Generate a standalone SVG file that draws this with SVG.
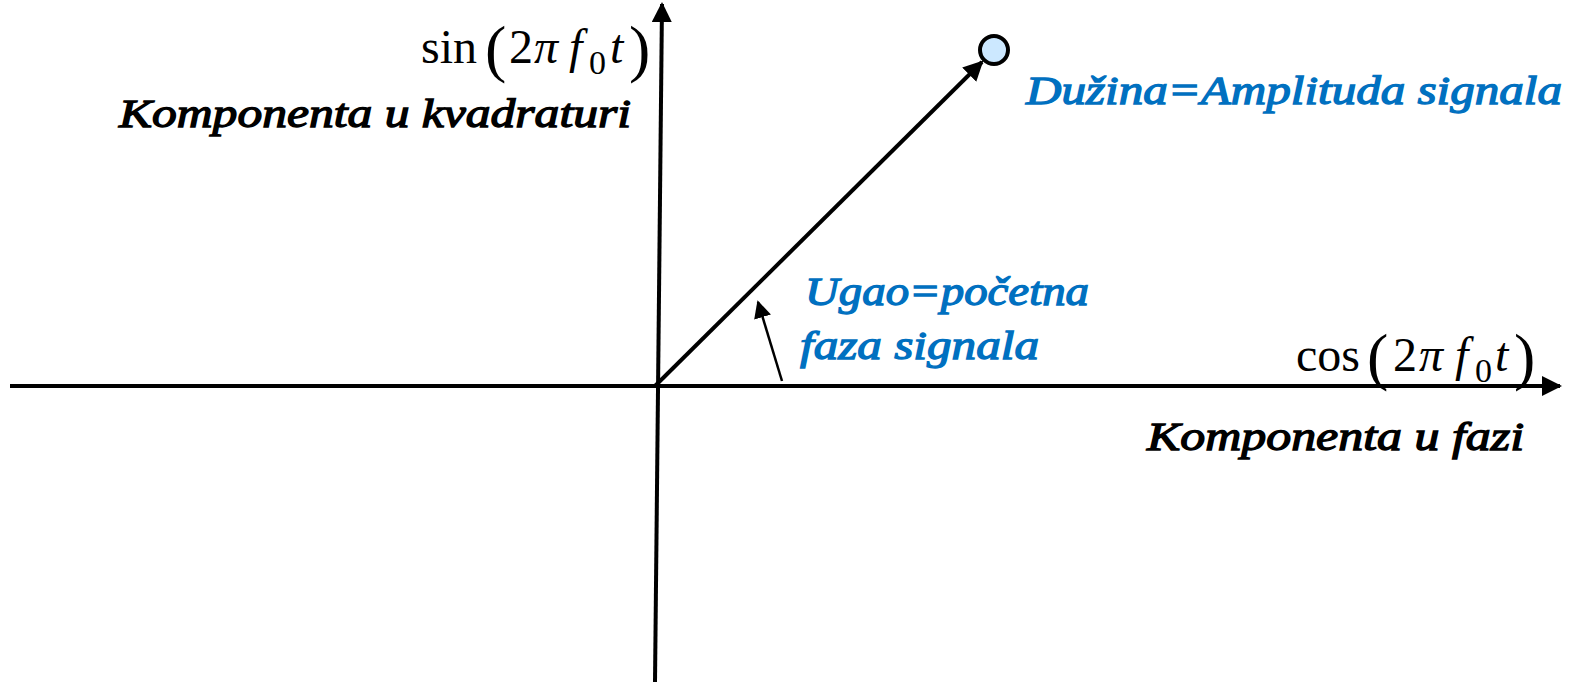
<svg xmlns="http://www.w3.org/2000/svg" width="1577" height="682" viewBox="0 0 1577 682">
<style>
.ax{stroke:#000;stroke-width:4;fill:none}
.lbl{font-family:"Liberation Serif","Times New Roman",serif;font-style:italic;font-size:40px;fill:#000;stroke:#000;stroke-width:1.3}
.blue{fill:#0070C0;stroke:#0070C0}
.math{font-family:"Liberation Serif","Times New Roman",serif;font-size:48px;fill:#000}
.it{font-style:italic}
.par{font-size:64px}
.sub{font-size:34px}
</style>
<defs>
<marker id="ah" viewBox="0 0 10 10" refX="9" refY="5" markerWidth="5" markerHeight="5" orient="auto" markerUnits="strokeWidth">
<path d="M0,0 L10,5 L0,10 Z" fill="#000"/>
</marker>
<marker id="ahs" viewBox="0 0 10 10" refX="9" refY="5" markerWidth="7" markerHeight="7" orient="auto" markerUnits="strokeWidth">
<path d="M0,0 L10,5 L0,10 Z" fill="#000"/>
</marker>
</defs>
<g id="connectors">
<line class="ax" x1="10" y1="386" x2="1560" y2="386" marker-end="url(#ah)"/>
<line class="ax" x1="655" y1="682" x2="662" y2="4" marker-end="url(#ah)"/>
<line class="ax" x1="655" y1="386" x2="982" y2="62" stroke-width="5" marker-end="url(#ah)"/>
<line x1="782" y1="381" x2="758" y2="302" stroke="#000" stroke-width="2.5" marker-end="url(#ahs)"/>
</g>
<g id="point">
<circle cx="994" cy="50" r="14" fill="#CCE8FF" stroke="#000" stroke-width="4"/>
</g>
<g id="sin-label">
<text class="math" y="63"><tspan x="421">sin</tspan><tspan class="par" x="485" y="70">(</tspan><tspan x="509" y="63">2</tspan><tspan class="it" x="534">π</tspan><tspan class="it" x="569">f</tspan><tspan class="sub" x="589" y="74">0</tspan><tspan class="it" x="610" y="63">t</tspan><tspan class="par" x="629" y="70">)</tspan></text>
<text class="lbl" x="119" y="127" textLength="512" lengthAdjust="spacingAndGlyphs">Komponenta u kvadraturi</text>
</g>
<g id="cos-label">
<text class="math" y="371"><tspan x="1296">cos</tspan><tspan class="par" x="1367" y="378">(</tspan><tspan x="1393" y="371">2</tspan><tspan class="it" x="1419">π</tspan><tspan class="it" x="1455">f</tspan><tspan class="sub" x="1475" y="382">0</tspan><tspan class="it" x="1495" y="371">t</tspan><tspan class="par" x="1514" y="378">)</tspan></text>
<text class="lbl" x="1147" y="450" textLength="377" lengthAdjust="spacingAndGlyphs">Komponenta u fazi</text>
</g>
<g id="amplitude-label">
<text class="lbl blue" x="1026" y="104" textLength="536" lengthAdjust="spacingAndGlyphs">Dužina=Amplituda signala</text>
</g>
<g id="phase-label">
<text class="lbl blue" x="805" y="305" textLength="284" lengthAdjust="spacingAndGlyphs">Ugao=početna</text>
<text class="lbl blue" x="800" y="359" textLength="239" lengthAdjust="spacingAndGlyphs">faza signala</text>
</g>
</svg>
